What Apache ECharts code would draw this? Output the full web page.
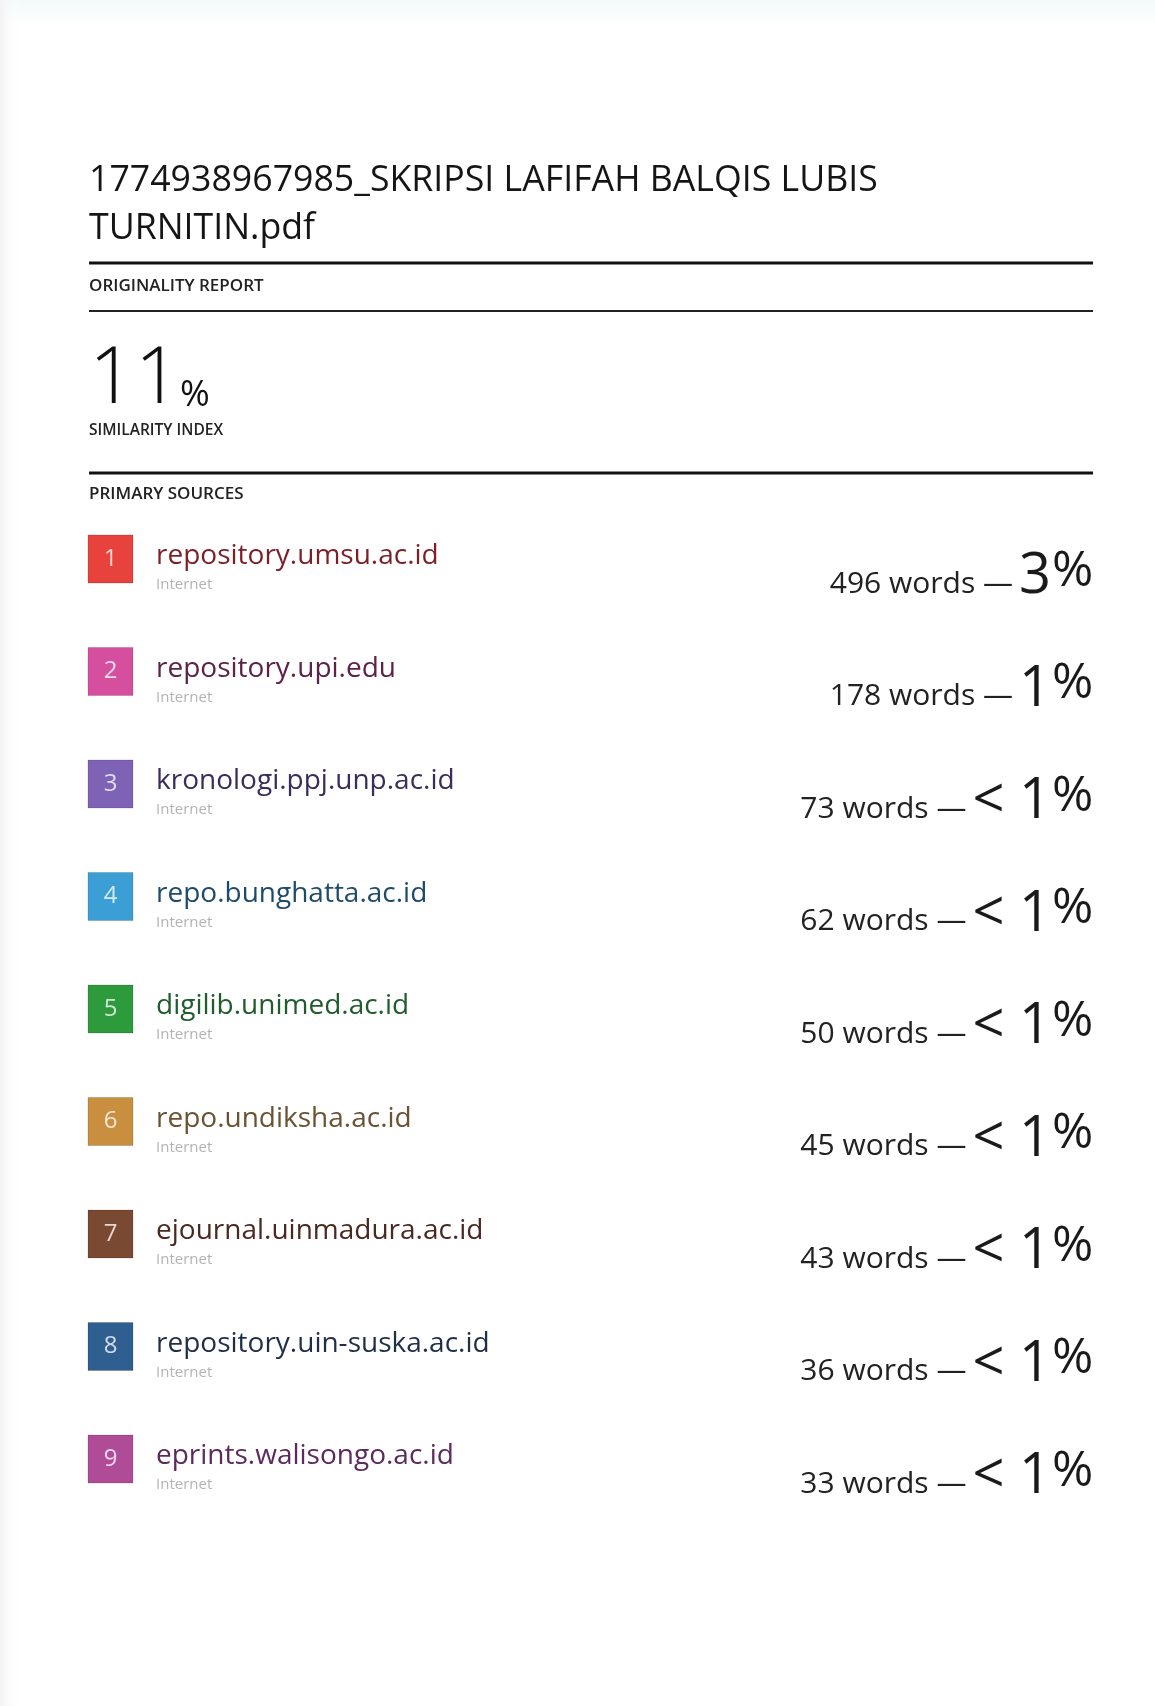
<!DOCTYPE html>
<html><head><meta charset="utf-8">
<script src="https://cdn.jsdelivr.net/npm/echarts@6/dist/echarts.min.js"></script>
<style>html,body{margin:0;padding:0;background:#fff}#c{width:1155px;height:1706px}</style>
</head><body><div id="c"></div>
<script>
const titleLines = ['1774938967985_SKRIPSI LAFIFAH BALQIS LUBIS', 'TURNITIN.pdf'];
const reportLabel = 'ORIGINALITY REPORT';
const similarityIndex = 11;
const similarityLabel = 'SIMILARITY INDEX';
const sourcesLabel = 'PRIMARY SOURCES';
const sourceNames = ['repository.umsu.ac.id','repository.upi.edu','kronologi.ppj.unp.ac.id','repo.bunghatta.ac.id','digilib.unimed.ac.id','repo.undiksha.ac.id','ejournal.uinmadura.ac.id','repository.uin-suska.ac.id','eprints.walisongo.ac.id'];
const sourceTypes = ['Internet','Internet','Internet','Internet','Internet','Internet','Internet','Internet','Internet'];
const sourceWords = [496, 178, 73, 62, 50, 45, 43, 36, 33];
const sourcePercent = ['3', '1', '< 1', '< 1', '< 1', '< 1', '< 1', '< 1', '< 1'];
const badgeColors = ['#e8423c','#d64f9e','#7e62b6','#3b9fd6','#2d9a3c','#c98f3f','#7a4932','#2f5e91','#b04b97'];
const nameColors = ['#7c1f26','#5c2249','#3a2d5c','#1f4b6b','#215c2c','#6b5232','#4a2a20','#1f2f48','#5c2a5c'];

const FONT = '"Open Sans", "Noto Sans", sans-serif';
const mctx = document.createElement('canvas').getContext('2d');
function measure(t, size, weight) { mctx.font = (weight || 'normal') + ' ' + size + 'px ' + FONT; return mctx.measureText(t).width; }

const chart = echarts.init(document.getElementById('c'), null, {renderer: 'canvas'});
const BIG = 56, PCT = 50, WORDS = 30, NAME = 28;

function txt(x, baseline, text, size, color, opts) {
  opts = opts || {};
  return {type: 'text', x: x, y: baseline - 0.388 * size, silent: true,
    style: {text: text, fill: color, font: (opts.weight || 'normal') + ' ' + size + 'px ' + FONT,
      align: opts.align || 'left', verticalAlign: 'middle'}};
}

const data = sourceNames.map((n, i) => [0, i]);

const option = {
  backgroundColor: '#ffffff',
  animation: false,
  grid: {left: 88, right: 63, top: 560, bottom: 246},
  xAxis: {type: 'value', min: 0, max: 1, show: false},
  yAxis: {type: 'value', min: 0, max: 8, inverse: true, show: false},
  graphic: [
    {type: 'rect', left: 0, top: 0, shape: {width: 1155, height: 26}, style: {fill: new echarts.graphic.LinearGradient(0,0,0,1,[{offset:0,color:'#f2fafa'},{offset:1,color:'#ffffff'}])}, silent: true},
    {type: 'rect', left: 0, top: 0, shape: {width: 22, height: 1706}, style: {fill: new echarts.graphic.LinearGradient(0,0,1,0,[{offset:0,color:'#f3f3f5'},{offset:1,color:'rgba(255,255,255,0)'}])}, silent: true},
    txt(89, 195, titleLines[0], 35.7, '#151515', {weight: 500}),
    txt(89, 243, titleLines[1], 35.7, '#151515', {weight: 500}),
    {type: 'line', shape: {x1: 89, y1: 263, x2: 1093, y2: 263}, style: {stroke: '#111', lineWidth: 3}, silent: true},
    txt(89, 293, reportLabel, 17, '#222', {weight: 600}),
    {type: 'line', shape: {x1: 89, y1: 311, x2: 1093, y2: 311}, style: {stroke: '#222', lineWidth: 2}, silent: true},
    txt(89, 411, String(similarityIndex), 80, '#111', {weight: 300}),
    txt(180, 410, '%', 36, '#111'),
    txt(89, 437, similarityLabel, 15.5, '#222', {weight: 600}),
    {type: 'line', shape: {x1: 89, y1: 473, x2: 1093, y2: 473}, style: {stroke: '#111', lineWidth: 3}, silent: true},
    txt(89, 501, sourcesLabel, 17, '#222', {weight: 600})
  ],
  series: [{
    type: 'custom',
    coordinateSystem: 'cartesian2d',
    data: data,
    renderItem: function (params, api) {
      const i = api.value(1);
      const B = api.coord([0, i])[1];
      const cs = params.coordSys;
      const left = cs.x, right = cs.x + cs.width;
      const big = sourcePercent[i];
      const pctX = right - 40;
      const bigRight = pctX - 1;
      const bigW = measure(big, BIG);
      const wordsRight = bigRight - bigW - 6;
      return {type: 'group', children: [
        {type: 'rect', shape: {x: left, y: B - 25, width: 45, height: 48}, style: {fill: badgeColors[i], stroke: 'rgba(0,0,0,0.15)', lineWidth: 1}},
        {type: 'text', x: left + 22.5, y: B - 1, style: {text: String(i + 1), fill: 'rgba(255,255,255,0.78)', font: 'normal 24px ' + FONT, align: 'center', verticalAlign: 'middle'}},
        txt(left + 68, B + 7, sourceNames[i], NAME, nameColors[i]),
        txt(left + 68, B + 31, sourceTypes[i], 15, '#b3b3b3'),
        txt(wordsRight, B + 36, sourceWords[i] + ' words —', WORDS, '#222', {align: 'right'}),
        txt(bigRight, B + 39, big, BIG, '#1a1a1a', {align: 'right'}),
        txt(pctX, B + 31, '%', PCT, '#1a1a1a')
      ]};
    }
  }]
};
chart.setOption(option);
</script></body></html>
